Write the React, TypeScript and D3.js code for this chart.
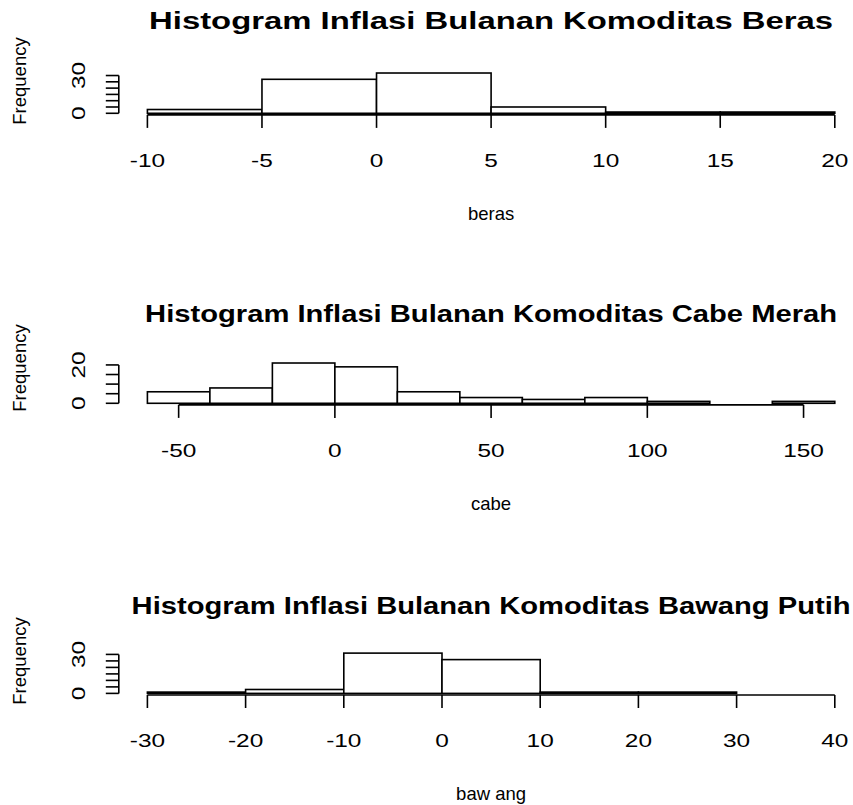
import React from "react";
import * as d3 from "d3";

// ---- data ----
const berasBreaks = [-10, -5, 0, 5, 10, 15, 20];
const berasCounts = [3, 27, 32, 5, 1, 1];
const berasXTicks = [-10, -5, 0, 5, 10, 15, 20];
const berasYTicks = [0, 5, 10, 15, 20, 25, 30];
const berasYLabels = [0, 30];

const cabeBreaks = [-60, -40, -20, 0, 20, 40, 60, 80, 100, 120, 140, 160];
const cabeCounts = [6, 8, 21, 19, 6, 3, 2, 3, 1, 0, 1];
const cabeXTicks = [-50, 0, 50, 100, 150];
const cabeYTicks = [0, 5, 10, 15, 20];
const cabeYLabels = [0, 20];

const bawangBreaks = [-30, -20, -10, 0, 10, 20, 30, 40];
const bawangCounts = [1, 3, 31, 26, 1, 1, 0];
const bawangXTicks = [-30, -20, -10, 0, 10, 20, 30, 40];
const bawangYTicks = [0, 5, 10, 15, 20, 25, 30];
const bawangYLabels = [0, 30];

const titles = [
  "Histogram Inflasi Bulanan Komoditas Beras",
  "Histogram Inflasi Bulanan Komoditas Cabe Merah",
  "Histogram Inflasi Bulanan Komoditas Bawang Putih",
];
const xLabels = ["beras", "cabe", "baw ang"];
const yLabel = "Frequency";

// ---- layout ----
const W = 853;
const H = 805;
const X0 = 147.4;
const X1 = 834.8;
const PLOT_H = 43.5;
const AXIS_X = 118.8;
const TICK = 13;
const SW = 1.6;
const FONT = "'Liberation Sans', Arial, Helvetica, sans-serif";
const DIGIT_STRETCH = 1.32;

const panels = [
  { breaks: berasBreaks, counts: berasCounts, xTicks: berasXTicks, yTicks: berasYTicks, yLabels: berasYLabels,
    bottom: 114.9, titleY: 29, titleLen: 684, freqY: 81 },
  { breaks: cabeBreaks, counts: cabeCounts, xTicks: cabeXTicks, yTicks: cabeYTicks, yLabels: cabeYLabels,
    bottom: 404.9, titleY: 322, titleLen: 692, freqY: 368 },
  { breaks: bawangBreaks, counts: bawangCounts, xTicks: bawangXTicks, yTicks: bawangYTicks, yLabels: bawangYLabels,
    bottom: 695, titleY: 614, titleLen: 719, freqY: 661 },
];

function Panel({ p, i }: { p: any; i: number }) {
  const x = d3.scaleLinear().domain([p.breaks[0], p.breaks[p.breaks.length - 1]]).range([X0, X1]);
  const max = d3.max(p.counts as number[]) as number;
  const y = d3.scaleLinear().domain([-0.04 * max, 1.04 * max]).range([p.bottom, p.bottom - PLOT_H]);
  const bins = (p.counts as number[]).map((c, k) => ({ x0: p.breaks[k], x1: p.breaks[k + 1], c }));
  const yt = p.yTicks as number[];
  const xt = p.xTicks as number[];
  const cx = (X0 + X1) / 2;
  return (
    <g>
      <text x={cx} y={p.titleY} textAnchor="middle" fontFamily={FONT} fontWeight="bold" fontSize={23}
        textLength={p.titleLen} lengthAdjust="spacingAndGlyphs">{titles[i]}</text>
      {bins.map((b, k) => (
        <rect key={k} x={x(b.x0)} y={y(b.c)} width={x(b.x1) - x(b.x0)} height={y(0) - y(b.c)}
          fill="white" stroke="black" strokeWidth={SW} />
      ))}
      {/* x axis */}
      <line x1={x(xt[0])} x2={x(xt[xt.length - 1])} y1={p.bottom} y2={p.bottom} stroke="black" strokeWidth={SW} />
      {xt.map((t) => (
        <g key={t}>
          <line x1={x(t)} x2={x(t)} y1={p.bottom} y2={p.bottom + TICK} stroke="black" strokeWidth={SW} />
          <text transform={`translate(${x(t)},${p.bottom + 52}) scale(${DIGIT_STRETCH},1)`} textAnchor="middle"
            fontFamily={FONT} fontSize={18.5}>{t}</text>
        </g>
      ))}
      <text x={cx} y={p.bottom + 105} textAnchor="middle" fontFamily={FONT} fontSize={18.5}>{xLabels[i]}</text>
      {/* y axis */}
      <line x1={AXIS_X} x2={AXIS_X} y1={y(yt[0])} y2={y(yt[yt.length - 1])} stroke="black" strokeWidth={SW} />
      {yt.map((t) => (
        <line key={t} x1={AXIS_X} x2={AXIS_X - TICK} y1={y(t)} y2={y(t)} stroke="black" strokeWidth={SW} />
      ))}
      {(p.yLabels as number[]).map((t) => (
        <text key={t} transform={`translate(85,${y(t)}) rotate(-90) scale(${DIGIT_STRETCH},1)`} textAnchor="middle"
          fontFamily={FONT} fontSize={18.5}>{t}</text>
      ))}
      <text transform={`translate(26,${p.freqY}) rotate(-90)`} textAnchor="middle" fontFamily={FONT} fontSize={18.5}>{yLabel}</text>
    </g>
  );
}

export default function App() {
  return (
    <svg width={W} height={H} style={{ position: "absolute", left: 0, top: 0, background: "white" }}>
      <rect x={0} y={0} width={W} height={H} fill="white" />
      {panels.map((p, i) => <Panel key={i} p={p} i={i} />)}
    </svg>
  );
}
